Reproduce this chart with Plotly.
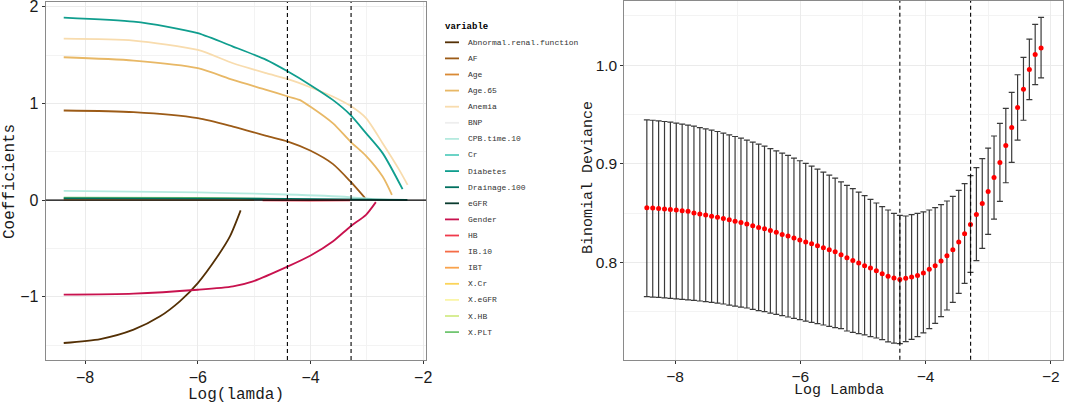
import plotly.graph_objects as go

# ---- left panel: coefficient paths ----
abnormal_x = [-8.38, -7.73, -7.14, -6.67, -6.32, -6.00, -5.67, -5.43, -5.24]
abnormal_y = [-1.479, -1.438, -1.341, -1.203, -1.048, -0.859, -0.600, -0.376, -0.107]
af_x = [-8.38, -7.14, -6.00, -5.375, -4.785, -4.40, -4.006, -3.605, -3.292, -3.03]
af_y = [0.927, 0.910, 0.848, 0.761, 0.665, 0.606, 0.513, 0.375, 0.193, 0.020]
age65_x = [-8.38, -7.14, -6.00, -5.375, -4.785, -4.40, -4.195, -4.006, -3.605, -3.292, -3.015, -2.72, -2.555]
age65_y = [1.478, 1.444, 1.365, 1.244, 1.141, 1.072, 1.037, 0.968, 0.796, 0.606, 0.458, 0.244, 0.055]
anemia_x = [-8.38, -7.14, -6.00, -5.375, -4.785, -4.40, -4.006, -3.605, -3.292, -3.015, -2.72, -2.425, -2.277]
anemia_y = [1.671, 1.651, 1.554, 1.416, 1.313, 1.251, 1.168, 1.072, 0.975, 0.848, 0.589, 0.313, 0.158]
cpb_x = [-8.38, -6.00, -4.43, -3.31, -2.90, -2.60]
cpb_y = [0.096, 0.079, 0.058, 0.031, 0.010, 0.002]
diabetes_x = [-8.38, -7.14, -6.555, -6.00, -5.375, -4.785, -4.40, -4.006, -3.605, -3.292, -3.015, -2.72, -2.366]
diabetes_y = [1.889, 1.847, 1.796, 1.727, 1.589, 1.451, 1.330, 1.192, 1.037, 0.882, 0.693, 0.486, 0.113]
drainage_x = [-8.38, -6.00, -4.40, -3.30, -2.28]
drainage_y = [0.018, 0.016, 0.012, 0.007, 0.002]
gender_x = [-8.38, -7.14, -6.00, -5.375, -5.02, -4.40, -4.006, -3.605, -3.292, -3.015, -2.84]
gender_y = [-0.979, -0.969, -0.928, -0.893, -0.841, -0.686, -0.576, -0.428, -0.273, -0.152, -0.021]
hb_x = [-4.85, -4.00, -3.30]
hb_y = [-0.004, -0.006, -0.002]
ibt_x = [-8.38, -5.00]
ibt_y = [0.004, 0.002]
xplt_x = [-8.38, -6.00, -4.90, -4.40]
xplt_y = [0.024, 0.022, 0.015, 0.006]

variables = ["Abnormal.renal.function", "AF", "Age", "Age.65", "Anemia", "BNP",
             "CPB.time.10", "Cr", "Diabetes", "Drainage.100", "eGFR", "Gender",
             "HB", "IB.10", "IBT", "X.Cr", "X.eGFR", "X.HB", "X.PLT"]
var_colors = ["#543005", "#9c5b17", "#d98a35", "#e8b866", "#f8dcae", "#eeeeee",
              "#b5eadf", "#5ccfc0", "#109e8e", "#01705f", "#0a3b2e", "#c8124e",
              "#f03a4c", "#f56c47", "#f9a34d", "#fbd45a", "#faf5a8", "#d3eb8a", "#71c671"]

paths = {
    "Abnormal.renal.function": (abnormal_x, abnormal_y),
    "AF": (af_x, af_y),
    "Age.65": (age65_x, age65_y),
    "Anemia": (anemia_x, anemia_y),
    "CPB.time.10": (cpb_x, cpb_y),
    "X.PLT": (xplt_x, xplt_y),
    "IBT": (ibt_x, ibt_y),
    "Drainage.100": (drainage_x, drainage_y),
    "HB": (hb_x, hb_y),
    "Gender": (gender_x, gender_y),
    "Diabetes": (diabetes_x, diabetes_y),
}

lambda_min = -4.41
lambda_1se = -3.28

# ---- right panel: cross-validation curve ----
log_lambda = [-8.450, -8.356, -8.262, -8.168, -8.074, -7.980, -7.886, -7.792, -7.698, -7.604,
              -7.510, -7.416, -7.322, -7.228, -7.134, -7.041, -6.947, -6.853, -6.759, -6.665,
              -6.571, -6.477, -6.383, -6.289, -6.195, -6.101, -6.007, -5.913, -5.819, -5.725,
              -5.631, -5.537, -5.443, -5.349, -5.255, -5.161, -5.067, -4.973, -4.879, -4.785,
              -4.692, -4.598, -4.504, -4.410, -4.316, -4.222, -4.128, -4.034, -3.940, -3.846,
              -3.752, -3.658, -3.564, -3.470, -3.376, -3.282, -3.188, -3.094, -3.000, -2.906,
              -2.812, -2.718, -2.624, -2.530, -2.436, -2.342, -2.249, -2.155]
deviance = [0.8553, 0.8550, 0.8546, 0.8542, 0.8537, 0.8531, 0.8524, 0.8517, 0.8500, 0.8490,
            0.8480, 0.8468, 0.8457, 0.8445, 0.8432, 0.8418, 0.8405, 0.8388, 0.8371, 0.8354,
            0.8341, 0.8324, 0.8304, 0.8283, 0.8266, 0.8246, 0.8226, 0.8206, 0.8189, 0.8168,
            0.8148, 0.8128, 0.8108, 0.8077, 0.8047, 0.8020, 0.7993, 0.7966, 0.7942, 0.7915,
            0.7885, 0.7858, 0.7841, 0.7827, 0.7838, 0.7851, 0.7868, 0.7892, 0.7929, 0.7966,
            0.8013, 0.8067, 0.8128, 0.8206, 0.8290, 0.8385, 0.8486, 0.8597, 0.8719, 0.8861,
            0.9013, 0.9185, 0.9367, 0.9570, 0.9756, 0.9955, 1.0107, 1.0174]
upper = [0.9445, 0.9441, 0.9435, 0.9428, 0.9421, 0.9411, 0.9401, 0.9391, 0.9381, 0.9367,
         0.9354, 0.9340, 0.9327, 0.9310, 0.9293, 0.9276, 0.9259, 0.9239, 0.9219, 0.9198,
         0.9178, 0.9154, 0.9131, 0.9107, 0.9084, 0.9057, 0.9030, 0.9003, 0.8976, 0.8945,
         0.8915, 0.8884, 0.8854, 0.8817, 0.8780, 0.8747, 0.8713, 0.8676, 0.8639, 0.8602,
         0.8565, 0.8531, 0.8497, 0.8477, 0.8470, 0.8484, 0.8497, 0.8511, 0.8531, 0.8555,
         0.8585, 0.8622, 0.8669, 0.8730, 0.8798, 0.8879, 0.8960, 0.9051, 0.9159, 0.9281,
         0.9409, 0.9561, 0.9723, 0.9902, 1.0078, 1.0264, 1.0412, 1.0483]
lower = [0.7652, 0.7648, 0.7644, 0.7640, 0.7635, 0.7630, 0.7625, 0.7620, 0.7614, 0.7608,
         0.7601, 0.7594, 0.7586, 0.7578, 0.7567, 0.7557, 0.7547, 0.7537, 0.7524, 0.7510,
         0.7500, 0.7486, 0.7473, 0.7459, 0.7446, 0.7432, 0.7419, 0.7405, 0.7392, 0.7378,
         0.7365, 0.7351, 0.7338, 0.7328, 0.7304, 0.7291, 0.7277, 0.7264, 0.7247, 0.7233,
         0.7216, 0.7193, 0.7182, 0.7176, 0.7196, 0.7220, 0.7247, 0.7284, 0.7328, 0.7382,
         0.7449, 0.7517, 0.7594, 0.7686, 0.7787, 0.7898, 0.8017, 0.8142, 0.8283, 0.8439,
         0.8618, 0.8807, 0.9013, 0.9239, 0.9441, 0.9651, 0.9803, 0.9870]

W, H = 1065, 405
mono = "Liberation Mono"
sans = "Liberation Sans"

fig = go.Figure()

color_of = dict(zip(variables, var_colors))
for name, (px_, py_) in paths.items():
    fig.add_trace(go.Scatter(x=px_, y=py_, mode="lines", name=name,
                             line=dict(color=color_of[name], width=1.8, shape="spline", smoothing=0.7),
                             xaxis="x", yaxis="y", showlegend=False))

fig.add_trace(go.Scatter(
    x=log_lambda, y=deviance, mode="markers",
    marker=dict(color="#ff0000", size=5),
    error_y=dict(type="data", symmetric=False,
                 array=[u - m for u, m in zip(upper, deviance)],
                 arrayminus=[m - l for m, l in zip(deviance, lower)],
                 color="#3a3a3a", thickness=1.2, width=3),
    xaxis="x2", yaxis="y2", showlegend=False))

grid = "#ebebeb"
minor_grid = "#f3f3f3"
border = "#8a8a8a"
common = dict(showline=True, mirror=True, linecolor=border, linewidth=1,
              ticks="outside", ticklen=3, tickcolor="#333333",
              gridcolor=grid, gridwidth=1, zeroline=False, automargin=False,
              ticklabeloverflow="allow",
              tickfont=dict(family=sans, size=16, color="#1a1a1a"))
right_font = dict(family=sans, size=15.5, color="#1a1a1a")

fig.update_layout(
    width=W, height=H,
    margin=dict(l=0, r=0, t=0, b=0),
    plot_bgcolor="white", paper_bgcolor="white",
    xaxis=dict(domain=[45.7 / W, 426 / W], range=[-8.70, -1.95],
               tickvals=[-8, -6, -4, -2], anchor="y",
               minor=dict(tickvals=[-7, -5, -3], showgrid=True, gridcolor=minor_grid, ticks=""),
               **common),
    yaxis=dict(domain=[1 - 360 / H, 1 - 2 / H], range=[-1.655, 2.05],
               tickvals=[-1, 0, 1, 2], anchor="x",
               minor=dict(tickvals=[-1.5, -0.5, 0.5, 1.5], showgrid=True, gridcolor=minor_grid, ticks=""),
               **common),
    xaxis2=dict(domain=[624.3 / W, 1063.3 / W], range=[-8.81, -1.80],
                tickvals=[-8, -6, -4, -2], anchor="y2",
                minor=dict(tickvals=[-7, -5, -3], showgrid=True, gridcolor=minor_grid, ticks=""),
                **{**common, "tickfont": right_font}),
    yaxis2=dict(domain=[1 - 359.7 / H, 1 - 1 / H], range=[0.7013, 1.065],
                tickvals=[0.8, 0.9, 1.0], ticktext=["0.8", "0.9", "1.0"], anchor="x2",
                minor=dict(tickvals=[0.75, 0.85, 0.95, 1.05], showgrid=True, gridcolor=minor_grid, ticks=""),
                **{**common, "tickfont": right_font}),
)

# zero line and cut-off lines
fig.add_shape(type="line", xref="x domain", yref="y", x0=0, x1=1, y0=0, y1=0,
              line=dict(color="black", width=1.2))
for xv in [lambda_min, lambda_1se]:
    fig.add_shape(type="line", xref="x", yref="y domain", x0=xv, x1=xv, y0=0, y1=1,
                  line=dict(color="black", width=1.1, dash="4px,3px"))
    fig.add_shape(type="line", xref="x2", yref="y2 domain", x0=xv, x1=xv, y0=0, y1=1,
                  line=dict(color="black", width=1.1, dash="4px,3px"))

# axis titles
title_font = dict(family=mono, size=16, color="#1a1a1a")
fig.add_annotation(text="Log(lamda)", x=236 / W, y=1 - 395 / H, xref="paper", yref="paper",
                   xanchor="center", yanchor="middle", showarrow=False, font=title_font)
fig.add_annotation(text="Coefficients", x=10 / W, y=1 - 182 / H, xref="paper", yref="paper",
                   xanchor="center", yanchor="middle", textangle=-90, showarrow=False, font=title_font)
fig.add_annotation(text="Log Lambda", x=839 / W, y=1 - 390 / H, xref="paper", yref="paper",
                   xanchor="center", yanchor="middle", showarrow=False,
                   font=dict(family=mono, size=15, color="#1a1a1a"))
fig.add_annotation(text="Binomial Deviance", x=588 / W, y=1 - 178 / H, xref="paper", yref="paper",
                   xanchor="center", yanchor="middle", textangle=-90, showarrow=False,
                   font=dict(family=mono, size=15, color="#1a1a1a"))

# legend drawn by hand to match the compact ggplot spacing
fig.add_annotation(text="<b>variable</b>", x=443 / W, y=1 - 27 / H, xref="paper", yref="paper",
                   xanchor="left", yanchor="middle", showarrow=False,
                   font=dict(family=mono, size=9, color="black"))
for i, (name, col) in enumerate(zip(variables, var_colors)):
    yp = 1 - (42.3 + i * 16.1) / H
    fig.add_shape(type="line", xref="paper", yref="paper", x0=445 / W, x1=459 / W, y0=yp, y1=yp,
                  line=dict(color=col, width=1.8))
    fig.add_annotation(text=name, x=466 / W, y=yp, xref="paper", yref="paper",
                       xanchor="left", yanchor="middle", showarrow=False,
                       font=dict(family=mono, size=8, color="#333333"))

# the page body has a default 8px margin; drop it so the figure sits at the corner
fig.write_html("out.html", config={"displayModeBar": False},
               post_script="document.body.style.margin='0px';")
